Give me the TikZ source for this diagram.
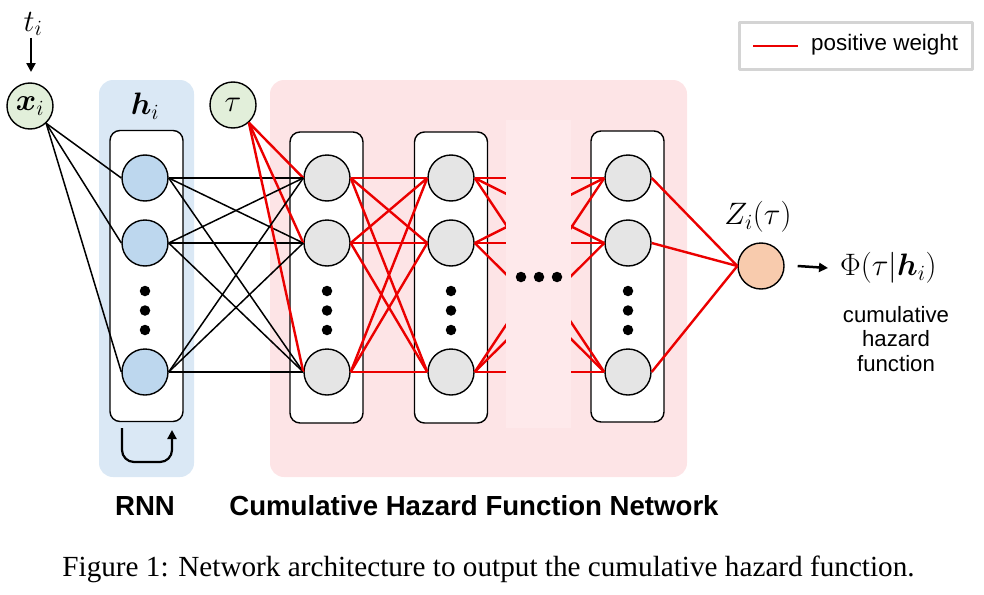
\documentclass[tikz,border=0pt]{standalone}
\usepackage{fix-cm}
\usepackage{amsmath}
\usepackage{fontspec}
\setmainfont{Liberation Serif}
\newfontfamily\arialf{Liberation Sans}
\usetikzlibrary{arrows.meta}
\definecolor{bluebg}{RGB}{218,232,245}
\definecolor{pinkbg}{RGB}{253,228,230}
\definecolor{pinklight}{RGB}{254,233,235}
\definecolor{greenfill}{RGB}{226,239,218}
\definecolor{bluenode}{RGB}{189,215,238}
\definecolor{graynode}{RGB}{229,229,229}
\definecolor{orangenode}{RGB}{248,203,173}
\definecolor{redline}{RGB}{235,0,0}
\definecolor{legendgray}{RGB}{212,212,212}
\tikzset{
  neuron/.style={circle, draw=black, line width=1.4pt, minimum size=46pt, inner sep=0pt},
  bluen/.style={neuron, fill=bluenode},
  grayn/.style={neuron, fill=graynode},
  outn/.style={neuron, fill=orangenode},
  inn/.style={neuron, fill=greenfill, font=\fontsize{31}{34}\selectfont},
  layerbox/.style={draw=black, line width=1.4pt, fill=white, rounded corners=10pt, minimum width=73pt, minimum height=291pt, inner sep=0pt},
  bgbox/.style={rounded corners=14pt, inner sep=0pt},
  blackw/.style={draw=black, line width=1.5pt},
  redw/.style={draw=redline, line width=2.4pt},
  bigdot/.style={circle, fill=black, minimum size=10.5pt, inner sep=0pt},
  mathlbl/.style={inner sep=0pt, font=\fontsize{31}{34}\selectfont},
  sanslbl/.style={inner sep=0pt, font=\arialf\fontsize{22.2}{26}\selectfont, align=center},
  boldlbl/.style={inner sep=0pt, font=\arialf\bfseries\fontsize{27.6}{30}\selectfont, anchor=base},
  arr/.style={-{Triangle[length=9pt,width=9pt]}, line width=2.5pt}
}
\begin{document}
\begin{tikzpicture}[x=1pt, y=-1pt, line join=round]
\useasboundingbox (0,0) rectangle (984,594);
% backgrounds
\node[bgbox, fill=bluebg, minimum width=95pt, minimum height=397pt] (rnnbg) at (146.5,278.5) {};
\node[bgbox, fill=pinkbg, minimum width=417pt, minimum height=397pt] (hazbg) at (478.5,278.5) {};
% layer boxes
\node[layerbox] (box0) at (146.5,276) {};
\node[layerbox] (box1) at (326.5,277.5) {};
\node[layerbox] (box2) at (451,277.5) {};
\node[layerbox] (box3) at (627.5,276.5) {};
% inputs
\node[inn] (xi) at (30,106) {$\boldsymbol{x}_i$};
\node[inn] (tau) at (233,105) {$\tau$};
\node[mathlbl] (ti) at (33,24) {$t_i$};
\coordinate (tiend) at (31,72);
\draw[arr] (31,38) -- (tiend);
\node[mathlbl] (hlbl) at (145,106) {$\boldsymbol{h}_i$};
% neurons
\foreach \j/\y in {1/178,2/243,3/372}{
  \node[bluen] (r\j) at (145,\y) {};
  \node[grayn] (a\j) at (327,\y) {};
  \node[grayn] (b\j) at (451,\y) {};
  \node[grayn] (c\j) at (628,\y) {};
}
\node[outn] (out) at (761,266) {};
% dots in layers
\foreach \x/\n in {145/r,327/a,451/b,628/c}{
  \node[bigdot] (\n d1) at (\x,291) {};
  \node[bigdot] (\n d2) at (\x,310.5) {};
  \node[bigdot] (\n d3) at (\x,330) {};
}
% connections
\foreach \j in {1,2,3}{
  \draw[blackw] (xi.-47) -- (r\j.west);
  \draw[redw] (tau.-48) -- (a\j.west);
  \draw[redw] (c\j.east) -- (out.west);
  \foreach \k in {1,2,3}{
    \draw[blackw] (r\j.east) -- (a\k.west);
    \draw[redw] (a\j.east) -- (b\k.west);
    \draw[redw] (b\j.east) -- (c\k.west);
  }
}
% gap cover
\node[fill=pinklight, minimum width=65pt, minimum height=308pt, inner sep=0pt] (gap) at (538.5,274) {};
\node[bigdot] (m1) at (521,277) {};
\node[bigdot] (m2) at (539,277) {};
\node[bigdot] (m3) at (557,277) {};
% recurrent arrow
\coordinate (recA) at (122,428);
\coordinate (recB) at (172,430);
\draw[line width=2.2pt, rounded corners=12pt, -{Triangle[length=9pt,width=9pt]}] (recA) -- (122,462) -- (172,462) -- (recB);
% output
\node[mathlbl] (zlbl) at (758,217) {$Z_i(\tau)$};
\node[mathlbl, anchor=west] (phi) at (840,268) {$\Phi(\tau|\boldsymbol{h}_i)$};
\draw[arr] ([xshift=13pt]out.east) -- ([xshift=-12pt]phi.west);
\node[sanslbl] (cum) at (896,339) {cumulative\\[-1.5pt]hazard\\[-1.5pt]function};
% legend
\node[draw=legendgray, line width=3pt, fill=white, minimum width=233pt, minimum height=46pt, inner sep=0pt] (legend) at (855.5,46) {};
\coordinate (lg1) at (753,46);
\coordinate (lg2) at (798,46);
\draw[redw, line width=2.6pt] (lg1) -- (lg2);
\node[sanslbl, anchor=west, font=\arialf\fontsize{22.4}{26}\selectfont] (lgtxt) at (811,45) {positive weight};
% bottom labels
\node[boldlbl] (rnnlbl) at (145,515) {RNN};
\node[boldlbl] (chlbl) at (474,515) {Cumulative Hazard Function Network};
\node[inner sep=0pt, anchor=base, font=\fontsize{29.2}{32}\selectfont] (caption) at (488.5,576) {Figure 1: Network architecture to output the cumulative hazard function.};
\end{tikzpicture}
\end{document}
